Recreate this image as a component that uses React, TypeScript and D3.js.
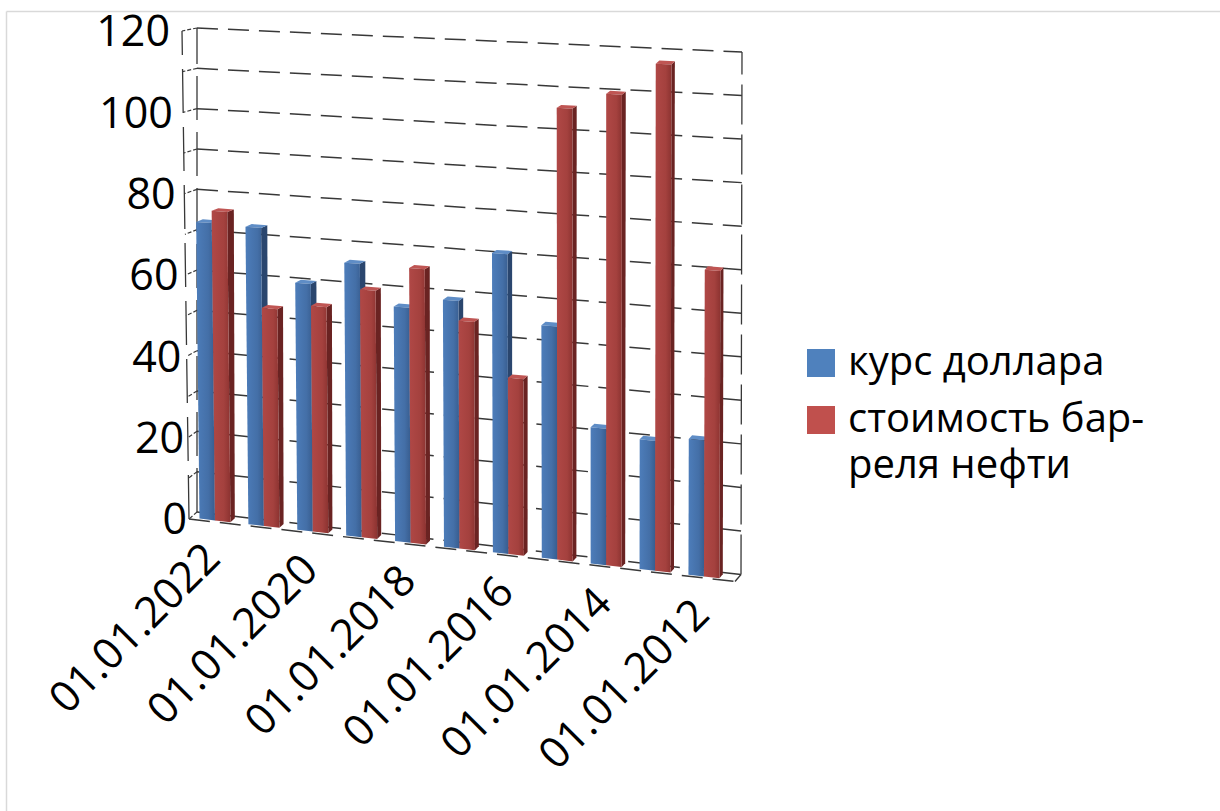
import React from 'react';
import * as d3 from 'd3';

const categories = [
  '01.01.2022', '01.01.2021', '01.01.2020', '01.01.2019', '01.01.2018', '01.01.2017',
  '01.01.2016', '01.01.2015', '01.01.2014', '01.01.2013', '01.01.2012',
];
const usdRate = [73.0, 72.7, 60.0, 65.8, 56.2, 58.8, 70.8, 54.7, 31.8, 30.1, 31.3];
const oilPrice = [76.0, 53.2, 54.7, 59.6, 65.7, 54.1, 41.6, 106.0, 109.9, 117.5, 70.6];
const legendUsd = ['курс доллара'];
const legendOil = ['стоимость бар-', 'реля нефти'];
const yTicks = [0, 20, 40, 60, 80, 100, 120];
const gridStep = 10;
const yMax = 120;

type P = [number, number];

export default function App() {
  const W = 1220;
  const H = 811;
  const uScale = d3.scalePoint<string>().domain(categories).range([0.0447, 0.9409]);
  const vScale = d3.scaleLinear().domain([0, yMax]).range([0, 1]);
  const gridValues = d3.range(0, yMax + gridStep, gridStep);

  // box corners: back/front, bottom/top, left/right
  const C = {
    b0: [[197, 512], [741, 574.5]] as P[],
    b1: [[197, 28], [742, 52]] as P[],
    f0: [[189, 519], [735, 581.5]] as P[],
    f1: [[182, 31], [737, 58]] as P[],
  };
  const lerp = (a: number, b: number, t: number) => a + (b - a) * t;
  const lp = (p: P, q: P, t: number): P => [lerp(p[0], q[0], t), lerp(p[1], q[1], t)];
  const proj = (u: number, v: number, d: number): P => {
    const s = vScale(v);
    const back = lp(lp(C.b0[0], C.b0[1], u), lp(C.b1[0], C.b1[1], u), s);
    const front = lp(lp(C.f0[0], C.f0[1], u), lp(C.f1[0], C.f1[1], u), s);
    return lp(back, front, d);
  };
  const line = d3.line<P>();
  const poly = (pts: P[]) => (line(pts) as string) + 'Z';

  const halfW = 0.0284;
  const dB = 0.25;
  const dF = 0.8;

  const stroke = '#383838';

  const bar = (u0: number, u1: number, v: number, kind: 'b' | 'r', key: string) => {
    const side = poly([proj(u1, 0, dF), proj(u1, 0, dB), proj(u1, v, dB), proj(u1, v, dF)]);
    const top = poly([proj(u0, v, dF), proj(u1, v, dF), proj(u1, v, dB), proj(u0, v, dB)]);
    const front = poly([proj(u0, 0, dF), proj(u1, 0, dF), proj(u1, v, dF), proj(u0, v, dF)]);
    const cols = kind === 'b'
      ? { side: '#2a466e', top: '#5f8dc6', front: 'url(#gBlue)' }
      : { side: '#6a2322', top: '#bf5553', front: 'url(#gRed)' };
    return (
      <g key={key}>
        <path d={side} fill={cols.side} />
        <path d={top} fill={cols.top} />
        <path d={front} fill={cols.front} />
      </g>
    );
  };

  const fontFamily = '"Open Sans", "DejaVu Sans", sans-serif';

  return (
    <svg width={W} height={H} style={{ position: 'absolute', left: 0, top: 0, background: '#fff' }}>
      <defs>
        <linearGradient id="gBlue" x1="0" x2="1" y1="0" y2="0">
          <stop offset="0%" stopColor="#4d7dba" />
          <stop offset="65%" stopColor="#446fa7" />
          <stop offset="100%" stopColor="#385d8f" />
        </linearGradient>
        <linearGradient id="gRed" x1="0" x2="1" y1="0" y2="0">
          <stop offset="0%" stopColor="#b04846" />
          <stop offset="65%" stopColor="#a4413e" />
          <stop offset="100%" stopColor="#8c3331" />
        </linearGradient>
      </defs>

      {/* outer frame (top and left visible) */}
      <line x1={6.5} y1={11.5} x2={W} y2={11.5} stroke="#d9d9d9" strokeWidth={1.5} />
      <line x1={6.5} y1={11.5} x2={6.5} y2={H} stroke="#d9d9d9" strokeWidth={1.5} />

      {/* back wall gridlines */}
      {gridValues.map((v) => {
        const a = proj(0, v, 0);
        const b = proj(1, v, 0);
        return (
          <line key={'g' + v} x1={a[0]} y1={a[1]} x2={b[0]} y2={b[1]}
            stroke={stroke} strokeWidth={1.5} strokeDasharray="21 10" />
        );
      })}
      {/* right edge of back wall */}
      {(() => {
        const a = proj(1, 0, 0);
        const b = proj(1, yMax, 0);
        return <line x1={a[0]} y1={a[1]} x2={b[0]} y2={b[1]} stroke={stroke} strokeWidth={1.3} strokeDasharray="40 10" />;
      })()}
      {/* left wall */}
      {(() => {
        const a = proj(0, 0, 0);
        const b = proj(0, yMax, 0);
        const c = proj(0, 0, 1);
        const e = proj(0, yMax, 1);
        return (
          <g>
            <line x1={a[0]} y1={a[1]} x2={b[0]} y2={b[1]} stroke={stroke} strokeWidth={1.3} strokeDasharray="44 12" />
            <line x1={c[0]} y1={c[1]} x2={e[0]} y2={e[1]} stroke={stroke} strokeWidth={1.3} strokeDasharray="44 14" />
          </g>
        );
      })()}
      {gridValues.map((v) => {
        const a = proj(0, v, 0);
        const b = proj(0, v, 1);
        return (
          <line key={'lw' + v} x1={a[0]} y1={a[1]} x2={b[0]} y2={b[1]}
            stroke={stroke} strokeWidth={1.2} strokeDasharray="4 2" />
        );
      })}

      {/* bars */}
      {categories.map((c, i) => {
        const uc = uScale(c) as number;
        return (
          <g key={c}>
            {bar(uc - halfW, uc, usdRate[i], 'b', 'b' + i)}
            {bar(uc, uc + halfW, oilPrice[i], 'r', 'r' + i)}
          </g>
        );
      })}

      {/* floor front edge */}
      {(() => {
        const a = proj(0, 0, 1);
        const b = proj(1, 0, 1);
        const r = proj(1, 0, 0);
        return (
          <g>
            <line x1={a[0]} y1={a[1]} x2={b[0]} y2={b[1]} stroke={stroke} strokeWidth={1.5} strokeDasharray="21 10" />
            <line x1={b[0]} y1={b[1]} x2={r[0]} y2={r[1]} stroke={stroke} strokeWidth={1.3} />
          </g>
        );
      })()}

      {/* y tick labels */}
      {yTicks.map((v) => {
        const p = proj(0, v, 1);
        const x = 187 - 17 * vScale(v);
        return (
          <text key={'y' + v} x={x} y={p[1]} dy="0.36em" textAnchor="end"
            fontFamily={fontFamily} fontSize={43} fill="#000">{v}</text>
        );
      })}

      {/* category labels */}
      {categories.map((c, i) => {
        if (i % 2 !== 0) return null;
        const uc = uScale(c) as number;
        const p = proj(uc, 0, 1);
        const x = p[0] + 9;
        const y = p[1] + 39;
        return (
          <text key={'c' + c} x={x} y={y} textAnchor="end" transform={`rotate(-45 ${x} ${y})`}
            fontFamily={fontFamily} fontSize={43} fill="#000">{c}</text>
        );
      })}

      {/* legend */}
      <rect x={807} y={349} width={28} height={28} fill="#4f81bd" />
      {legendUsd.map((t, k) => (
        <text key={'lu' + k} x={848} y={375 + k * 46} fontFamily={fontFamily} fontSize={40} fill="#000">{t}</text>
      ))}
      <rect x={807} y={406} width={28} height={28} fill="#c0504d" />
      {legendOil.map((t, k) => (
        <text key={'lo' + k} x={848} y={432 + k * 46} fontFamily={fontFamily} fontSize={40} fill="#000">{t}</text>
      ))}
    </svg>
  );
}
